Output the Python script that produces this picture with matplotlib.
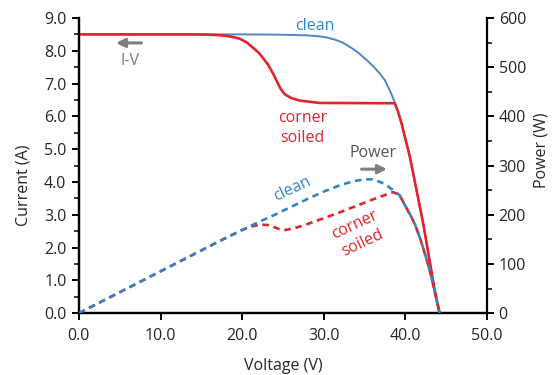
import matplotlib
matplotlib.use("Agg")
import matplotlib.pyplot as plt
from matplotlib.ticker import MultipleLocator

plt.rcParams['font.family'] = ['Open Sans', 'DejaVu Sans']

# I-V curves (V, A)
v_clean = [0, 15, 20, 25, 28, 29.5, 30.5, 31.5, 32.4, 33.2, 34.2, 35.3, 36.1, 36.9, 37.5, 37.9,
           38.3, 38.7, 39.1, 39.55, 40.05, 40.56, 41.38, 42.2, 42.9, 43.6, 44.2]
i_clean = [8.5, 8.5, 8.5, 8.49, 8.47, 8.44, 8.4, 8.33, 8.24, 8.12, 7.95, 7.71, 7.52, 7.3, 7.1, 6.9,
           6.68, 6.43, 6.15, 5.78, 5.28, 4.77, 3.75, 2.73, 1.72, 0.7, 0.0]

v_soiled = [0, 14, 16, 17.5, 18.7, 19.7, 20.6, 21.3, 22.0, 22.5, 23.2, 23.8, 24.3, 24.7, 25.2,
            26.0, 27.1, 29.5, 38.7, 39.1, 39.55, 40.05, 40.56, 41.38, 42.2, 42.9, 43.6, 44.2]
i_soiled = [8.5, 8.5, 8.49, 8.47, 8.43, 8.37, 8.25, 8.1, 7.95, 7.8, 7.57, 7.3, 7.05, 6.85, 6.68,
            6.56, 6.48, 6.41, 6.4, 6.15, 5.78, 5.28, 4.77, 3.75, 2.73, 1.72, 0.7, 0.0]

# power curves (V, W)
vp_clean = [0, 10, 17.3, 20, 22, 24, 26, 28, 30, 32, 33.6, 35, 36, 37, 37.7, 38.6,
            39.3, 40.0, 40.6, 41.2, 41.9, 42.6, 43.1, 43.6, 44.2]
p_clean = [0, 85, 147, 169, 185, 200, 216, 232, 247, 260, 268, 272, 272, 266, 260, 249,
           240, 218, 200, 180, 148, 110, 80, 45, 0]

vp_soiled = [0, 10, 18, 20, 21.3, 22.3, 23.2, 23.8, 24.5, 25.3, 26.5, 28, 30, 32, 34, 36, 38.5,
             39.3, 40.0, 40.6, 41.2, 41.9, 42.6, 43.1, 43.6, 44.2]
p_soiled = [0, 85, 153, 169, 177, 180, 179, 176, 171, 169, 173, 181, 193, 205, 218, 231, 246,
            240, 218, 200, 180, 148, 110, 80, 45, 0]

blue_iv = '#4f86c6'
blue = '#2f86c6'
red = '#e5232b'
gray = '#7f7f7f'
tick_col = '#262626'

fig = plt.figure(figsize=(5.52, 3.75), dpi=100)
ax = fig.add_axes([0.143, 0.165, 0.739, 0.787])
ax2 = ax.twinx()

ax.plot(v_clean, i_clean, color=blue_iv, lw=1.4, zorder=2)
ax.plot(v_soiled, i_soiled, color=red, lw=1.9, zorder=3)
ax2.plot(vp_clean, p_clean, color=blue, lw=1.9, dashes=(2.5, 1.8), zorder=3)
ax2.plot(vp_soiled, p_soiled, color=red, lw=1.9, dashes=(2.5, 1.8), zorder=2)

ax.set_xlim(0, 50)
ax.set_ylim(0, 9)
ax2.set_ylim(0, 600)
ax.xaxis.set_major_locator(MultipleLocator(10))
ax.yaxis.set_major_locator(MultipleLocator(1))
ax.yaxis.set_minor_locator(MultipleLocator(0.5))
ax2.yaxis.set_major_locator(MultipleLocator(100))
ax2.yaxis.set_minor_locator(MultipleLocator(50))
ax.xaxis.set_major_formatter(lambda x, p: f"{x:.1f}")
ax.yaxis.set_major_formatter(lambda x, p: f"{x:.1f}")

for a in (ax, ax2):
    a.spines['top'].set_visible(False)
    for s in a.spines.values():
        s.set_linewidth(1.6)
    a.tick_params(which='major', length=5, width=1.4, labelsize=11.5, labelcolor=tick_col)
    a.tick_params(which='minor', length=3.5, width=1.1)
ax.spines['right'].set_visible(False)
ax.tick_params(axis='y', pad=4)
ax.tick_params(axis='x', pad=6)

ax.set_xlabel('Voltage (V)', fontsize=11.5, color=tick_col)
ax.set_ylabel('Current (A)', fontsize=11.5, color=tick_col)
ax2.set_ylabel('Power (W)', fontsize=11.5, color=tick_col)
for lab in (ax.xaxis.label, ax.yaxis.label, ax2.yaxis.label):
    lab.set_ha('center')
    lab.set_va('center')
ax.xaxis.set_label_coords(0.5, -0.178)
ax.yaxis.set_label_coords(-0.135, 0.434)
ax2.yaxis.set_label_coords(1.135, 0.553)

# annotations
ax.text(28.9, 8.75, 'clean', color=blue, fontsize=11.5, ha='center', va='center')
ax.text(27.4, 5.65, 'corner\nsoiled', color=red, fontsize=11.5, ha='center', va='center',
        linespacing=1.35)
ax.text(6.25, 7.68, 'I-V', color=gray, fontsize=11.5, ha='center', va='center')
ax.annotate('', xy=(4.2, 8.24), xytext=(8.0, 8.24),
            arrowprops=dict(arrowstyle='-|>', color=gray, lw=2.2, mutation_scale=13))
ax.text(36.0, 4.88, 'Power', color='#555555', fontsize=11.5, ha='center', va='center')
ax.annotate('', xy=(38.1, 4.39), xytext=(34.3, 4.39),
            arrowprops=dict(arrowstyle='-|>', color=gray, lw=2.2, mutation_scale=13))
ax.text(26.1, 3.78, 'clean', color=blue, fontsize=11.5, ha='center', va='center', rotation=25)
ax.text(34.3, 2.42, 'corner\nsoiled', color=red, fontsize=11.5, ha='center', va='center',
        rotation=25, linespacing=1.35)

fig.savefig('out.png', dpi=100)
